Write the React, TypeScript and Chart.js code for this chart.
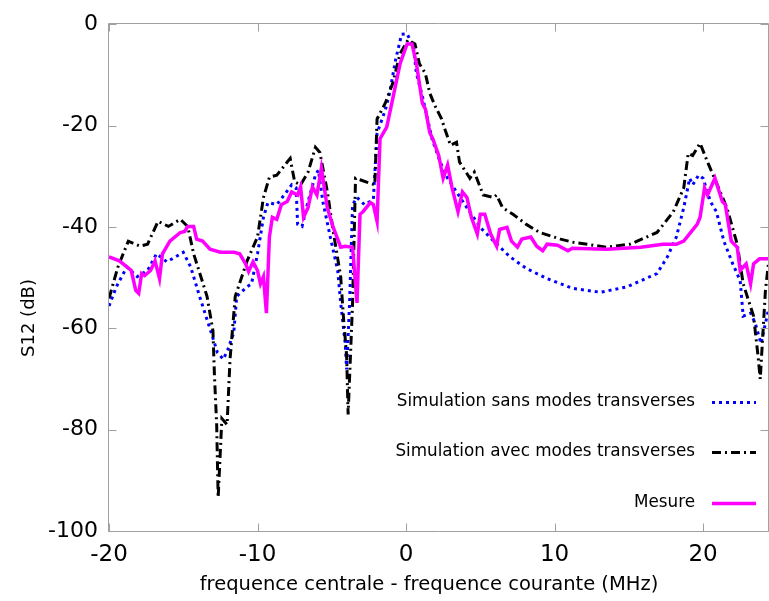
import React, { useEffect, useRef } from 'react';
import { Chart, registerables } from 'chart.js';

Chart.register(...registerables);

// ---- Data ----
const xTickValues = [-20, -10, 0, 10, 20];
const yTickValues = [0, -20, -40, -60, -80, -100];

const seriesLabels = [
  'Simulation sans modes transverses',
  'Simulation avec modes transverses',
  'Mesure',
];

const sansX = [-20, -19.5, -18.8, -18.1, -17.4, -16.8, -16.1, -15.0, -14.5, -13.9, -13.1, -12.7, -12.3, -12.0, -11.6, -11.4, -10.7, -10.4, -10.0, -9.6, -9.3, -8.7, -8.1, -7.7, -7.4, -7.3, -7.0, -6.6, -6.1, -5.9, -5.6, -5.1, -4.6, -4.4, -4.1, -4.0, -3.8, -3.6, -3.3, -2.8, -2.2, -1.95, -1.4, -1.1, -0.7, -0.3, 0.07, 0.5, 0.7, 1.1, 1.4, 1.75, 2.3, 2.8, 3.4, 4.1, 5.0, 5.9, 7.0, 8.1, 9.5, 11.2, 13.1, 14.9, 16.9, 17.6, 18.2, 18.7, 19.1, 19.3, 19.7, 20.0, 20.5, 20.9, 21.4, 22.0, 22.5, 22.7, 23.2, 23.5, 23.9, 24.4];
const sansY = [-55.6, -51.8, -47.9, -49.8, -48.6, -45.3, -46.9, -45.0, -47.9, -53.7, -61.0, -64.8, -66.1, -64.2, -60.9, -53.7, -51.8, -51.2, -45.3, -38.1, -35.2, -35.6, -33.3, -31.7, -32.3, -39.5, -39.9, -35.0, -29.8, -28.8, -35.0, -42.0, -48.6, -55.0, -62.8, -68.1, -55.0, -35.6, -34.2, -35.6, -34.6, -21.5, -17.0, -13.5, -7.0, -2.0, -1.9, -4.5, -9.7, -14.2, -18.1, -22.6, -27.2, -30.4, -33.1, -36.2, -40.1, -42.8, -45.9, -48.2, -50.2, -52.1, -52.9, -51.8, -49.2, -45.9, -42.0, -36.2, -30.4, -31.7, -29.8, -30.4, -35.0, -37.0, -42.8, -47.3, -50.6, -57.6, -57.0, -58.9, -63.0, -56.4];

const avecX = [-20, -19.4, -18.7, -17.9, -17.4, -16.7, -16.0, -15.2, -14.7, -14.3, -13.4, -13.0, -12.9, -12.75, -12.65, -12.4, -12.05, -11.85, -11.5, -10.7, -10.0, -9.6, -9.2, -8.7, -8.0, -7.8, -7.5, -7.1, -6.6, -6.1, -5.8, -5.3, -4.9, -4.4, -4.2, -4.0, -3.9, -3.6, -3.4, -3.1, -2.4, -2.1, -1.95, -1.4, -0.9, -0.4, 0.13, 0.6, 0.9, 1.3, 1.6, 1.95, 2.4, 2.6, 3.0, 3.4, 3.6, 4.3, 4.6, 5.2, 5.9, 6.1, 6.5, 7.2, 8.1, 9.0, 10.4, 11.2, 13.5, 15.1, 16.9, 18.0, 18.7, 19.0, 19.3, 19.8, 20.3, 20.9, 21.6, 22.3, 22.7, 23.4, 23.7, 23.85, 24.2, 24.4];
const avecY = [-54.1, -47.9, -42.8, -43.8, -43.4, -38.9, -39.9, -38.5, -39.9, -45.3, -53.7, -60.5, -69.3, -79.0, -93.4, -77.8, -79.0, -66.1, -53.7, -46.7, -42.0, -34.2, -30.2, -29.8, -27.2, -26.5, -31.1, -31.7, -29.2, -24.3, -25.3, -33.0, -40.9, -49.8, -58.4, -65.4, -77.0, -55.0, -30.4, -30.7, -31.4, -31.7, -18.7, -15.6, -11.7, -5.8, -3.1, -3.9, -7.8, -9.7, -13.6, -16.1, -18.7, -20.6, -23.9, -23.3, -27.2, -30.4, -29.2, -33.7, -34.2, -33.7, -36.2, -37.5, -39.5, -41.1, -42.4, -43.0, -44.0, -43.4, -41.1, -37.0, -32.3, -25.5, -25.9, -23.5, -27.2, -31.3, -36.2, -43.4, -51.2, -57.6, -65.4, -70.0, -52.5, -47.3];

const mesureX = [-20, -19.3, -18.8, -18.5, -18.2, -18.0, -17.8, -17.6, -17.2, -16.9, -16.6, -16.4, -15.9, -15.2, -14.9, -14.7, -14.3, -14.1, -13.7, -13.2, -12.5, -11.6, -11.2, -10.8, -10.6, -10.3, -10.0, -9.8, -9.6, -9.4, -9.2, -9.0, -8.7, -8.4, -8.0, -7.7, -7.3, -7.1, -6.9, -6.6, -6.3, -6.0, -5.7, -5.3, -4.9, -4.4, -4.1, -3.6, -3.3, -3.1, -2.9, -2.4, -2.2, -1.95, -1.75, -1.3, -0.9, -0.4, 0.07, 0.4, 0.7, 1.1, 1.3, 1.6, 1.8, 2.2, 2.5, 2.8, 3.1, 3.5, 3.8, 4.1, 4.4, 4.8, 5.0, 5.3, 5.7, 6.1, 6.3, 6.8, 7.1, 7.5, 7.8, 8.4, 8.8, 9.2, 9.5, 10.2, 10.9, 11.2, 13.5, 15.8, 17.3, 18.2, 18.7, 19.6, 19.8, 20.1, 20.3, 20.8, 21.3, 21.5, 21.9, 22.3, 22.5, 22.9, 23.2, 23.4, 23.8, 24.4];
const mesureY = [-45.9, -46.7, -47.9, -48.6, -52.5, -53.1, -49.2, -49.6, -48.6, -46.7, -50.2, -45.3, -42.8, -41.1, -40.9, -39.9, -39.9, -42.4, -42.8, -44.4, -45.0, -45.0, -45.3, -47.3, -48.8, -46.9, -48.6, -51.2, -49.8, -57.0, -42.0, -38.1, -38.5, -35.6, -35.0, -33.1, -33.7, -32.1, -38.1, -36.2, -32.1, -33.7, -28.4, -36.2, -40.1, -44.0, -43.8, -44.0, -55.0, -37.5, -37.0, -35.2, -35.6, -38.9, -22.6, -20.3, -14.8, -7.8, -3.9, -3.9, -7.8, -15.6, -16.7, -21.4, -22.6, -25.9, -30.4, -27.8, -32.3, -37.0, -33.1, -34.2, -38.1, -41.4, -37.5, -37.5, -41.4, -43.8, -40.5, -40.1, -42.8, -44.0, -42.4, -42.0, -43.8, -44.7, -43.4, -43.6, -44.7, -44.2, -44.4, -44.0, -43.4, -43.4, -42.8, -39.5, -38.1, -32.3, -33.7, -30.4, -35.0, -35.6, -42.8, -44.0, -48.6, -47.3, -51.2, -47.3, -46.3, -46.3];

const xTitle = 'frequence centrale - frequence courante (MHz)';
const yTitle = 'S12 (dB)';

const FONT = '"DejaVu Sans", sans-serif';

const pairs = (xs: number[], ys: number[]) => xs.map((x, i) => ({ x, y: ys[i] }));

const overlayPlugin = {
  id: 'gnuplotOverlay',
  afterDraw(chart: any) {
    const { ctx, chartArea: a, scales } = chart;
    const xs = scales.x;
    const ys = scales.y;
    ctx.save();
    // frame
    ctx.strokeStyle = '#a0a0a0';
    ctx.lineWidth = 1;
    const L = Math.round(a.left) - 0.5;
    const T = Math.round(a.top) - 0.5;
    const R = Math.round(a.right) - 0.5;
    const B = Math.round(a.bottom) + 0.5;
    ctx.beginPath();
    ctx.moveTo(L, T); ctx.lineTo(R, T); ctx.lineTo(R, B); ctx.lineTo(L, B); ctx.closePath();
    ctx.stroke();
    // inward ticks
    ctx.beginPath();
    const tl = 8;
    yTickValues.forEach((v) => {
      const py = Math.round(ys.getPixelForValue(v)) + 0.5;
      ctx.moveTo(L, py); ctx.lineTo(L + tl, py);
      ctx.moveTo(R, py); ctx.lineTo(R - tl, py);
    });
    xTickValues.forEach((v) => {
      const px = Math.round(xs.getPixelForValue(v)) + 0.5;
      ctx.moveTo(px, B); ctx.lineTo(px, B - tl);
      ctx.moveTo(px, T); ctx.lineTo(px, T + tl);
    });
    ctx.stroke();

    // axis titles
    ctx.fillStyle = '#000';
    ctx.font = `19.5px ${FONT}`;
    ctx.textAlign = 'center';
    ctx.textBaseline = 'middle';
    ctx.fillText(xTitle, 429, 585);
    ctx.save();
    ctx.translate(29, 318);
    ctx.rotate(-Math.PI / 2);
    ctx.font = `18px ${FONT}`;
    ctx.fillText(yTitle, 0, 0);
    ctx.restore();

    // legend (text left of sample, gnuplot style)
    const rows = [402, 452, 503];
    chart.data.datasets.forEach((ds: any, i: number) => {
      const y = rows[i];
      ctx.font = `16.8px ${FONT}`;
      ctx.textAlign = 'right';
      ctx.textBaseline = 'middle';
      ctx.fillStyle = '#000';
      ctx.fillText(ds.label, 695, y);
      ctx.save();
      ctx.strokeStyle = ds.borderColor;
      ctx.lineWidth = ds.borderWidth;
      ctx.setLineDash(ds.borderDash || []);
      ctx.lineCap = 'butt';
      ctx.beginPath();
      ctx.moveTo(712, y + 0.5);
      ctx.lineTo(756, y + 0.5);
      ctx.stroke();
      ctx.restore();
    });
    ctx.restore();
  },
};

export default function App() {
  const canvasRef = useRef<HTMLCanvasElement | null>(null);

  useEffect(() => {
    document.body.style.margin = '0';
    const canvas = canvasRef.current!;
    const chart = new Chart(canvas, {
      type: 'line',
      data: {
        datasets: [
          {
            label: seriesLabels[0],
            data: pairs(sansX, sansY),
            borderColor: '#0000ff',
            borderWidth: 3,
            borderDash: [3, 4],
            pointRadius: 0,
            tension: 0,
            order: 3,
          },
          {
            label: seriesLabels[1],
            data: pairs(avecX, avecY),
            borderColor: '#000000',
            borderWidth: 3,
            borderDash: [9, 4, 2, 4],
            pointRadius: 0,
            tension: 0,
            order: 2,
          },
          {
            label: seriesLabels[2],
            data: pairs(mesureX, mesureY),
            borderColor: '#ff00ff',
            borderWidth: 3.5,
            pointRadius: 0,
            tension: 0,
            order: 1,
          },
        ],
      },
      options: {
        responsive: false,
        animation: false,
        devicePixelRatio: 1,
        layout: { padding: { top: 17, right: 0, left: 0, bottom: 0 } },
        plugins: { legend: { display: false }, tooltip: { enabled: false } },
        scales: {
          x: {
            type: 'linear',
            min: -20,
            max: 24.44,
            grid: { display: false, drawTicks: false },
            border: { display: false },
            afterBuildTicks: (s: any) => { s.ticks = xTickValues.map((v) => ({ value: v })); },
            afterFit: (s: any) => { s.height = 70; },
            ticks: {
              color: '#000',
              font: { family: FONT, size: 23 },
              padding: 10,
              maxRotation: 0,
              autoSkip: false,
            },
          },
          y: {
            type: 'linear',
            min: -100,
            max: 0,
            grid: { display: false, drawTicks: false },
            border: { display: false },
            afterBuildTicks: (s: any) => { s.ticks = yTickValues.map((v) => ({ value: v })); },
            afterFit: (s: any) => { s.width = 109; },
            ticks: {
              color: '#000',
              font: { family: FONT, size: 22 },
              padding: 11,
              autoSkip: false,
            },
          },
        },
      },
      plugins: [overlayPlugin],
    } as any);
    return () => chart.destroy();
  }, []);

  return (
    <div style={{ position: 'absolute', left: 0, top: 0, width: 769, height: 601, background: '#fff' }}>
      <canvas ref={canvasRef} width={769} height={601} style={{ display: 'block' }} />
    </div>
  );
}
